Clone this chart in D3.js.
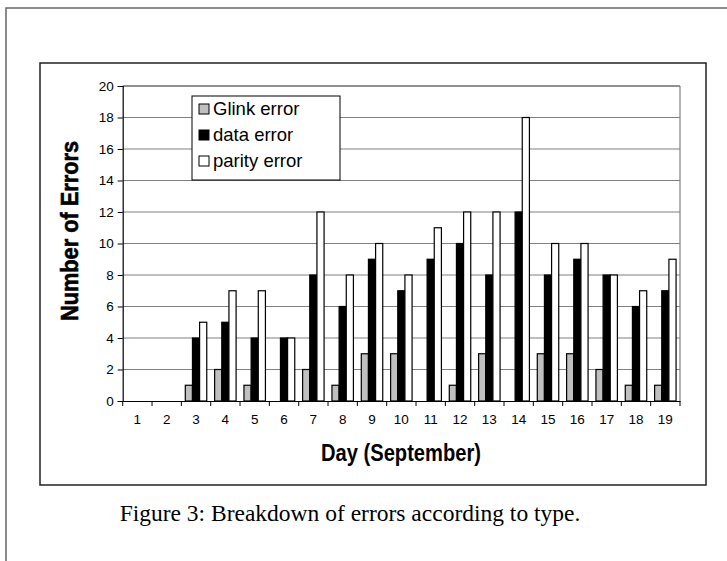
<!DOCTYPE html>
<html lang="en">
<head>
  <meta charset="UTF-8">
  <title>Breakdown of errors according to type</title>
  <script src="https://d3js.org/d3.v7.min.js"></script>
  <style>
    body { margin: 0; background: #fff; }
    svg { display: block; }
  </style>
</head>
<body>
  <svg id="container"></svg>

  <script>
    // Data
    const days = ["1","2","3","4","5","6","7","8","9","10","11","12","13","14","15","16","17","18","19"];
    const seriesNames = ["Glink error", "data error", "parity error"];
    const glinkErrors  = [0,0,1,2,1,0,2,1,3,3,0,1,3,0,3,3,2,1,1];
    const dataErrors   = [0,0,4,5,4,4,8,6,9,7,9,10,8,12,8,9,8,6,7];
    const parityErrors = [0,0,5,7,7,4,12,8,10,8,11,12,12,18,10,10,8,7,9];
    const yTicks = [0,2,4,6,8,10,12,14,16,18,20];

    const colors = ["#c0c0c0", "#000000", "#ffffff"];
    const values = [glinkErrors, dataErrors, parityErrors];

    const width = 727, height = 561;
    const plot = { left: 122.7, right: 680, top: 86, bottom: 401 };
    const sans = "Arial, 'Liberation Sans', sans-serif";

    const svg = d3.select("#container")
      .attr("width", width)
      .attr("height", height);

    // outer page frame (top and left edges visible)
    svg.append("path")
      .attr("d", `M6,561 L6,8 L727,8`)
      .attr("fill", "none")
      .attr("stroke", "#666")
      .attr("stroke-width", 1.5);

    // chart box
    svg.append("rect")
      .attr("x", 40).attr("y", 63)
      .attr("width", 666).attr("height", 422)
      .attr("fill", "#fff")
      .attr("stroke", "#222")
      .attr("stroke-width", 1.5);

    const x = d3.scaleBand().domain(days).range([plot.left, plot.right]).padding(0);
    const xs = d3.scaleBand().domain(seriesNames).range([0, x.bandwidth()])
      .paddingInner(0).paddingOuter(0.55);
    const y = d3.scaleLinear().domain([0, 20]).range([plot.bottom, plot.top]);

    // gridlines
    svg.append("g")
      .selectAll("line")
      .data(yTicks.filter(d => d > 0))
      .join("line")
      .attr("x1", plot.left).attr("x2", plot.right)
      .attr("y1", d => y(d)).attr("y2", d => y(d))
      .attr("stroke", d => d === 20 ? "#222" : "#808080")
      .attr("stroke-width", 1.2);

    // plot area right edge
    svg.append("line")
      .attr("x1", plot.right).attr("x2", plot.right)
      .attr("y1", plot.top).attr("y2", plot.bottom)
      .attr("stroke", "#808080")
      .attr("stroke-width", 1.2);

    // bars
    const rows = days.map((d, i) => seriesNames.map((s, k) => ({ day: d, series: s, k: k, value: values[k][i] })));
    svg.append("g")
      .selectAll("g")
      .data(rows)
      .join("g")
      .attr("transform", d => `translate(${x(d[0].day)},0)`)
      .selectAll("rect")
      .data(d => d.filter(e => e.value > 0))
      .join("rect")
      .attr("x", d => xs(d.series))
      .attr("y", d => y(d.value))
      .attr("width", xs.bandwidth())
      .attr("height", d => y(0) - y(d.value))
      .attr("fill", d => colors[d.k])
      .attr("stroke", "#000")
      .attr("stroke-width", 1.2);

    // y axis
    const yAxis = svg.append("g")
      .attr("transform", `translate(${plot.left},0)`)
      .call(d3.axisLeft(y).tickValues(yTicks).tickSize(5).tickPadding(4));
    yAxis.select(".domain").attr("stroke", "#000").attr("stroke-width", 1.2);
    yAxis.selectAll(".tick line").attr("stroke", "#000");
    yAxis.selectAll("text")
      .attr("font-family", sans)
      .attr("font-size", 13.5)
      .attr("fill", "#000");

    // x axis: labels centered in bands, ticks at band boundaries
    const xAxis = svg.append("g")
      .attr("transform", `translate(0,${plot.bottom})`)
      .call(d3.axisBottom(x).tickSize(0).tickPadding(13));
    xAxis.select(".domain").attr("stroke", "#000").attr("stroke-width", 1.2);
    xAxis.selectAll("text")
      .attr("font-family", sans)
      .attr("font-size", 13.5)
      .attr("fill", "#000");
    xAxis.selectAll(".bound")
      .data(days.map(d => x(d)).concat([x(days[days.length - 1]) + x.bandwidth()]))
      .join("line")
      .attr("class", "bound")
      .attr("x1", d => d).attr("x2", d => d)
      .attr("y1", 0).attr("y2", 5)
      .attr("stroke", "#000");

    // axis titles
    svg.append("text")
      .attr("x", 401)
      .attr("y", 461)
      .attr("text-anchor", "middle")
      .attr("font-family", sans)
      .attr("font-weight", "bold")
      .attr("font-size", 23)
      .attr("textLength", 160)
      .attr("lengthAdjust", "spacingAndGlyphs")
      .text("Day (September)");

    svg.append("text")
      .attr("transform", `translate(78,231) rotate(-90)`)
      .attr("text-anchor", "middle")
      .attr("font-family", sans)
      .attr("font-weight", "900")
      .attr("font-size", 23)
      .attr("textLength", 180)
      .attr("lengthAdjust", "spacingAndGlyphs")
      .attr("stroke", "#000")
      .attr("stroke-width", 0.6)
      .text("Number of Errors");

    // legend
    const legend = svg.append("g").attr("transform", "translate(192,96)");
    legend.append("rect")
      .attr("width", 148).attr("height", 84)
      .attr("fill", "#fff")
      .attr("stroke", "#000")
      .attr("stroke-width", 1);
    const item = legend.selectAll("g.item")
      .data(seriesNames)
      .join("g")
      .attr("class", "item")
      .attr("transform", (d, i) => `translate(7,${13 + i * 26})`);
    item.append("rect")
      .attr("x", 0).attr("y", -5)
      .attr("width", 10).attr("height", 10)
      .attr("fill", (d, i) => colors[i])
      .attr("stroke", "#000");
    item.append("text")
      .attr("x", 14).attr("y", 0)
      .attr("dy", "0.35em")
      .attr("font-family", sans)
      .attr("font-size", 18.5)
      .text(d => d);

    // caption
    svg.append("text")
      .attr("x", 350)
      .attr("y", 521)
      .attr("text-anchor", "middle")
      .attr("font-family", "'Times New Roman', 'Liberation Serif', serif")
      .attr("font-size", 23.5)
      .text("Figure 3: Breakdown of errors according to type.");
  </script>
</body>
</html>
